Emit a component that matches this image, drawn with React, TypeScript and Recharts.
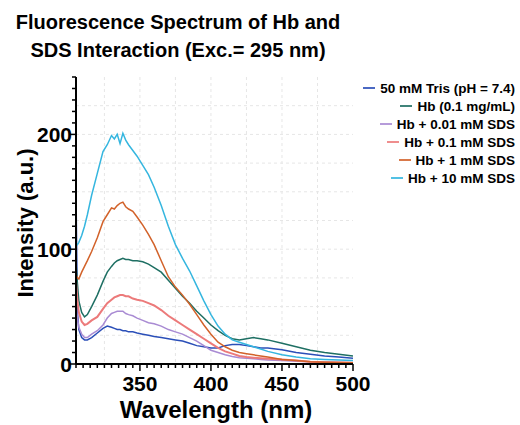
import React from "react";
import { LineChart, Line, XAxis, YAxis, CartesianGrid } from "recharts";

const wavelengths = [305, 306, 307, 309, 311, 313, 316, 320, 324, 327, 330, 332, 334, 336, 338, 340, 342, 345, 348, 352, 356, 360, 365, 370, 375, 380, 385, 390, 395, 400, 405, 410, 415, 420, 425, 430, 435, 440, 450, 460, 470, 480, 490, 500];

const tris = [150, 45, 30, 23, 21, 21, 23, 27, 31, 33, 32, 31, 30, 30, 29, 29, 28, 28, 27, 26, 25, 24, 23, 22, 21, 20, 18, 16, 15, 14, 14, 16, 17, 17, 16, 15, 14, 14, 12.5, 10, 8.5, 7, 6, 5];
const hb = [88, 70, 55, 45, 41, 43, 50, 60, 72, 80, 85, 88, 90, 91, 92, 91, 91, 90, 90, 89, 87, 84, 80, 73, 66, 59, 53, 46, 40, 34, 29, 25, 22, 21, 22, 23, 22, 21, 18, 15, 12, 10, 8.5, 7];
const sds001 = [52, 40, 32, 26, 23, 23, 26, 29, 34, 40, 44, 45, 46, 46, 46, 44, 43, 42, 40, 38, 36, 35, 33, 30, 28, 26, 23, 20, 16, 12, 10, 8, 6.5, 5.5, 5, 4.5, 4, 3.5, 3, 2.5, 2, 1.5, 1.2, 1];
const sds01 = [72, 55, 45, 37, 34, 35, 38, 41, 48, 53, 56, 58, 59, 60, 60, 59, 59, 57, 56, 55, 53, 51, 47, 42, 38, 34, 30, 26, 22, 18, 14, 11, 9, 7, 6, 5.5, 5, 4.5, 4, 3, 2, 1.5, 1.2, 1];
const sds1 = [78, 75, 74, 80, 85, 90, 98, 110, 124, 130, 136, 135, 138, 140, 141, 137, 135, 133, 128, 121, 113, 104, 90, 76, 67, 60, 52, 43, 34, 26, 19, 15, 12, 10, 9, 8, 7, 6, 4, 3, 2, 1.5, 1.2, 1];
const sds10 = [105, 104, 106, 112, 120, 130, 147, 166, 185, 191, 199, 196, 200, 192, 201, 195, 191, 186, 181, 173, 165, 154, 138, 120, 104, 92, 81, 68, 55, 43, 33, 26, 21, 19, 17, 15, 13, 11, 8, 6, 4.5, 4, 3.5, 3];

const seriesKeys = ["tris", "hb", "sds001", "sds01", "sds1", "sds10"];
const seriesNames = ["50 mM Tris (pH = 7.4)", "Hb (0.1 mg/mL)", "Hb + 0.01 mM SDS", "Hb + 0.1 mM SDS", "Hb + 1 mM SDS", "Hb + 10 mM SDS"];
const seriesColors = ["#2b4fb8", "#1e6f63", "#a98bd3", "#ec7a7a", "#d2622a", "#35b6df"];
const seriesWidths = [1.5, 1.5, 1.5, 2, 1.5, 1.5];
const seriesValues = [tris, hb, sds001, sds01, sds1, sds10];

const xLabels = [350, 400, 450, 500];
const yLabels = [0, 100, 200];
const xTicks: number[] = [];
for (let v = 305; v <= 500; v += 5) xTicks.push(v);
const yTicks: number[] = [];
for (let v = 0; v <= 250; v += 10) yTicks.push(v);
const gridX = [325, 350, 375, 400, 425, 450, 475];
const gridY = [25, 50, 75, 100, 125, 150, 175, 200, 225];

const titleLines = ["Fluorescence Spectrum of Hb and", "SDS Interaction (Exc.= 295 nm)"];
const xTitle = "Wavelength (nm)";
const yTitle = "Intensity (a.u.)";

const data = wavelengths.map((w, i) => {
  const row: any = { w };
  seriesKeys.forEach((k, j) => {
    row[k] = seriesValues[j][i];
  });
  return row;
});

const FONT = "'Liberation Sans', Arial, sans-serif";

const XTick = (props: any) => {
  const { x, y, payload } = props;
  const v = payload.value;
  const major = xLabels.includes(v);
  return (
    <g>
      <line x1={x} x2={x} y1={y} y2={y + (major ? 7 : 4)} stroke="#000" strokeWidth={1.5} />
      {major && (
        <text x={x} y={y + 27} textAnchor="middle" fontFamily={FONT} fontWeight="bold" fontSize={21} fill="#000">
          {v}
        </text>
      )}
    </g>
  );
};

const YTick = (props: any) => {
  const { x, y, payload } = props;
  const v = payload.value;
  const major = yLabels.includes(v);
  return (
    <g>
      <line x1={x} x2={x - (major ? 7 : 4)} y1={y} y2={y} stroke="#000" strokeWidth={1.5} />
      {major && (
        <text x={x - 4} y={y + 8} textAnchor="end" fontFamily={FONT} fontWeight="bold" fontSize={21} fill="#000">
          {v}
        </text>
      )}
    </g>
  );
};

const RTick = (props: any) => {
  const { x, y } = props;
  return <line x1={x} x2={x - 4} y1={y} y2={y} stroke="#000" strokeWidth={1.2} />;
};

const TTick = (props: any) => {
  const { x, y } = props;
  return <line x1={x} x2={x} y1={y} y2={y + 3} stroke="#333" strokeWidth={1} />;
};

export default function App() {
  return (
    <div style={{ position: "absolute", left: 0, top: 0, width: 520, height: 425, background: "#fff" }}>
      <LineChart width={520} height={425} data={data} margin={{ top: 77, right: 167, bottom: 31, left: 36 }}>
        <CartesianGrid
          stroke="#e6e6e6"
          strokeDasharray="3 3"
          horizontalValues={gridY}
          verticalValues={gridX}
        />
        <XAxis
          dataKey="w"
          type="number"
          domain={[305, 500]}
          ticks={xTicks}
          interval={0}
          allowDataOverflow
          height={30}
          tickSize={0}
          tickMargin={0}
          tickLine={false}
          tick={<XTick />}
          axisLine={{ stroke: "#000", strokeWidth: 2 }}
        />
        <XAxis
          xAxisId="top"
          orientation="top"
          dataKey="w"
          type="number"
          domain={[305, 500]}
          ticks={xTicks}
          interval={0}
          allowDataOverflow
          height={0}
          tickSize={0}
          tickMargin={0}
          tickLine={false}
          tick={<TTick />}
          axisLine={{ stroke: "#aaa", strokeWidth: 1 }}
        />
        <YAxis
          type="number"
          domain={[0, 250]}
          ticks={yTicks}
          interval={0}
          allowDataOverflow
          width={40}
          tickSize={0}
          tickMargin={0}
          tickLine={false}
          tick={<YTick />}
          axisLine={{ stroke: "#000", strokeWidth: 2 }}
        />
        <YAxis
          yAxisId="r"
          orientation="right"
          type="number"
          domain={[0, 250]}
          ticks={yTicks}
          interval={0}
          allowDataOverflow
          width={0}
          tickSize={0}
          tickMargin={0}
          tickLine={false}
          tick={<RTick />}
          axisLine={{ stroke: "#000", strokeWidth: 1.2 }}
        />
        {seriesKeys.map((k, i) => (
          <Line
            key={k}
            type="linear"
            dataKey={k}
            name={seriesNames[i]}
            stroke={seriesColors[i]}
            strokeWidth={seriesWidths[i]}
            dot={false}
            isAnimationActive={false}
          />
        ))}
      </LineChart>
      <svg width={520} height={425} style={{ position: "absolute", left: 0, top: 0, pointerEvents: "none" }}>
        <g fontFamily={FONT} fontWeight="bold" fill="#000">
          <text x={178} y={29} textAnchor="middle" fontSize={20}>{titleLines[0]}</text>
          <text x={178} y={57} textAnchor="middle" fontSize={20}>{titleLines[1]}</text>
          <text x={216} y={418} textAnchor="middle" fontSize={24}>{xTitle}</text>
          <text transform="translate(33,223) rotate(-90)" textAnchor="middle" fontSize={22}>{yTitle}</text>
        </g>
      </svg>
      <div style={{ position: "absolute", right: 5, top: 79, fontFamily: FONT, fontWeight: "bold", fontSize: 13.5, color: "#000" }}>
        {seriesNames.map((n, i) => (
          <div key={n} style={{ display: "flex", justifyContent: "flex-end", alignItems: "center", height: 18, whiteSpace: "nowrap" }}>
            <span style={{ display: "inline-block", width: 12, height: 2, background: seriesColors[i], marginRight: 5, opacity: 0.85 }} />
            <span>{n}</span>
          </div>
        ))}
      </div>
    </div>
  );
}
